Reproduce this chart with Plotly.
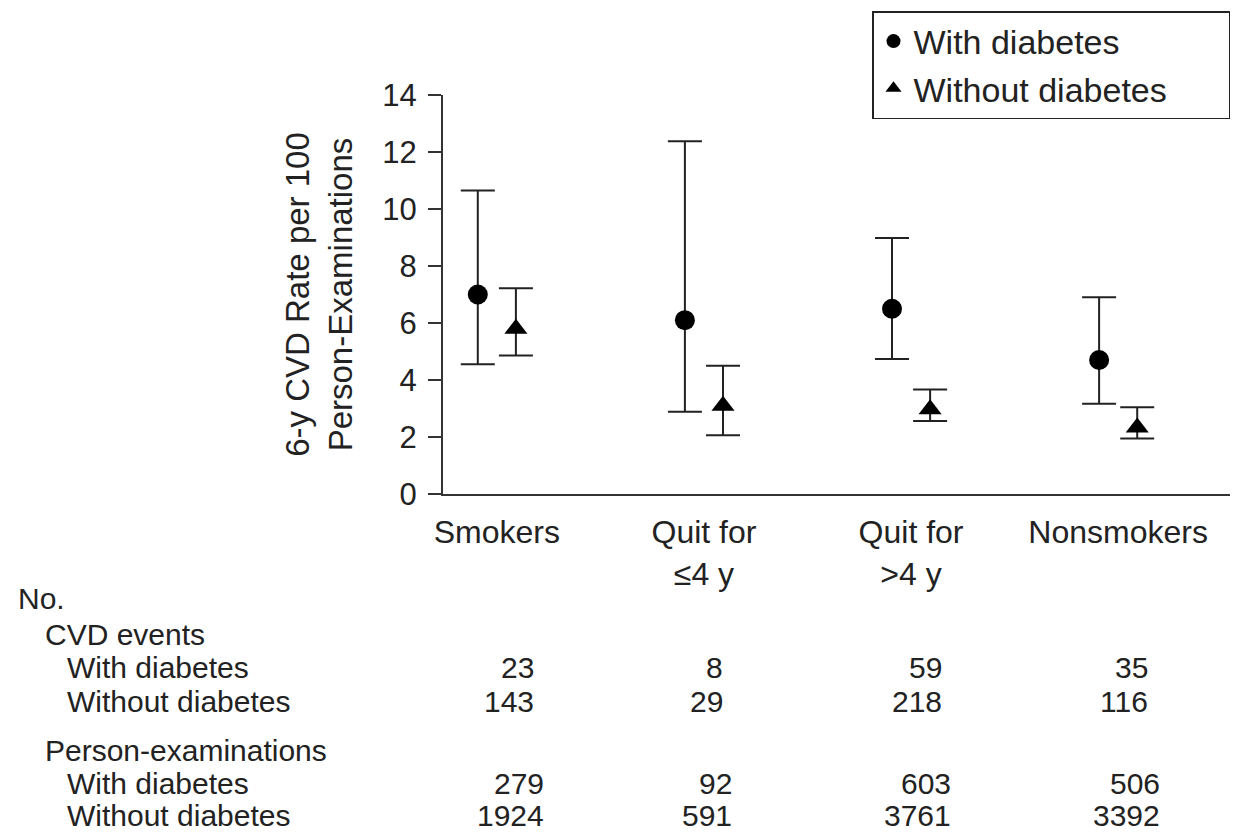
import plotly.graph_objects as go

# ---------------- data ----------------
categories = ["Smokers", "Quit for<br>≤4 y", "Quit for<br>>4 y", "Nonsmokers"]
series_names = ["With diabetes", "Without diabetes"]

with_rate = [7.0, 6.1, 6.5, 4.7]
with_upper = [10.65, 12.38, 8.98, 6.9]
with_lower = [4.55, 2.89, 4.74, 3.17]

without_rate = [5.8, 3.1, 2.97, 2.33]
without_upper = [7.22, 4.5, 3.67, 3.04]
without_lower = [4.86, 2.06, 2.56, 1.95]

events_with = [23, 8, 59, 35]
events_without = [143, 29, 218, 116]
exams_with = [279, 92, 603, 506]
exams_without = [1924, 591, 3761, 3392]

y_ticks = [0, 2, 4, 6, 8, 10, 12, 14]

# ---------------- style ----------------
FONT = "Liberation Sans, Arial, Helvetica, sans-serif"
INK = "#222222"
W, H = 1234, 835
ML, MR, MT, MB = 443, 4, 95, 341
PW, PH = W - ML - MR, H - MT - MB
OFF = 0.092
TXT = 30
PAD = "\u00a0" * 6  # widen legend box


def px_x(p):
    return (p - ML) / PW


def px_y(p):
    return (H - MB - p) / PH


idx = list(range(len(categories)))
xw = [i - OFF for i in idx]
xo = [i + OFF for i in idx]

fig = go.Figure()

fig.add_trace(go.Scatter(
    x=xw, y=with_rate, mode="markers", showlegend=False,
    marker=dict(symbol="circle", size=20, color="black"),
    error_y=dict(type="data", symmetric=False,
                 array=[u - r for u, r in zip(with_upper, with_rate)],
                 arrayminus=[r - l for r, l in zip(with_rate, with_lower)],
                 color=INK, thickness=2, width=17),
))
fig.add_trace(go.Scatter(
    x=xo, y=without_rate, mode="markers", showlegend=False,
    marker=dict(symbol="triangle-up", size=20, color="black"),
    error_y=dict(type="data", symmetric=False,
                 array=[u - r for u, r in zip(without_upper, without_rate)],
                 arrayminus=[r - l for r, l in zip(without_rate, without_lower)],
                 color=INK, thickness=2, width=17),
))
# legend-only entries
fig.add_trace(go.Scatter(x=[None], y=[None], mode="markers", name=series_names[0] + PAD,
                         marker=dict(symbol="circle", size=14, color="black")))
fig.add_trace(go.Scatter(x=[None], y=[None], mode="markers", name=series_names[1] + PAD,
                         marker=dict(symbol="triangle-up", size=14, color="black")))

# ---------------- table below ----------------
ann = []
label_rows = [
    ("No.", 16, 598),
    ("CVD events", 43, 634),
    ("With diabetes", 65, 667),
    ("Without diabetes", 65, 701),
    ("Person-examinations", 43, 750),
    ("With diabetes", 65, 783),
    ("Without diabetes", 65, 816),
]
for t, lx, ly in label_rows:
    ann.append(dict(text=t, xref="paper", yref="paper", x=px_x(lx), y=px_y(ly),
                    xanchor="left", yanchor="middle", showarrow=False,
                    font=dict(size=TXT, family=FONT, color=INK)))

ev_right = [536, 725, 944, 1150]
ex_right = [546, 734, 953, 1162]
for vals, cols, ly in [(events_with, ev_right, 667), (events_without, ev_right, 701),
                       (exams_with, ex_right, 783), (exams_without, ex_right, 816)]:
    for v, cx in zip(vals, cols):
        ann.append(dict(text=str(v), xref="paper", yref="paper", x=px_x(cx), y=px_y(ly),
                        xanchor="right", yanchor="middle", showarrow=False,
                        font=dict(size=TXT, family=FONT, color=INK)))

fig.update_layout(
    width=W, height=H,
    margin=dict(l=ML, r=MR, t=MT, b=MB, autoexpand=False),
    paper_bgcolor="white", plot_bgcolor="white",
    font=dict(family=FONT, color=INK),
    annotations=ann,
    legend=dict(x=1.0, y=px_y(11), xanchor="right", yanchor="top",
                bordercolor=INK, borderwidth=1.5, bgcolor="white",
                font=dict(size=34, family=FONT, color=INK),
                itemsizing="trace", tracegroupgap=0),
    xaxis=dict(range=[-0.26, 3.54], tickmode="array", tickvals=idx, ticktext=categories,
               showline=True, linecolor="#333333", linewidth=2, ticks="",
               showgrid=False, zeroline=False, ticklabelstandoff=9,
               tickfont=dict(size=32, family=FONT, color=INK)),
    yaxis=dict(range=[0, 14], tickmode="array", tickvals=y_ticks,
               showline=True, linecolor="#333333", linewidth=2,
               ticks="outside", ticklen=13, tickwidth=2, tickcolor="#333333",
               showgrid=False, zeroline=False, ticklabelstandoff=5,
               tickfont=dict(size=31, family=FONT, color=INK),
               title=dict(text="6-y CVD Rate per 100<br>Person-Examinations",
                          font=dict(size=33, family=FONT, color=INK), standoff=20)),
)

fig.write_html("out.html", config={"displayModeBar": False},
               post_script="document.body.style.margin='0px';")
